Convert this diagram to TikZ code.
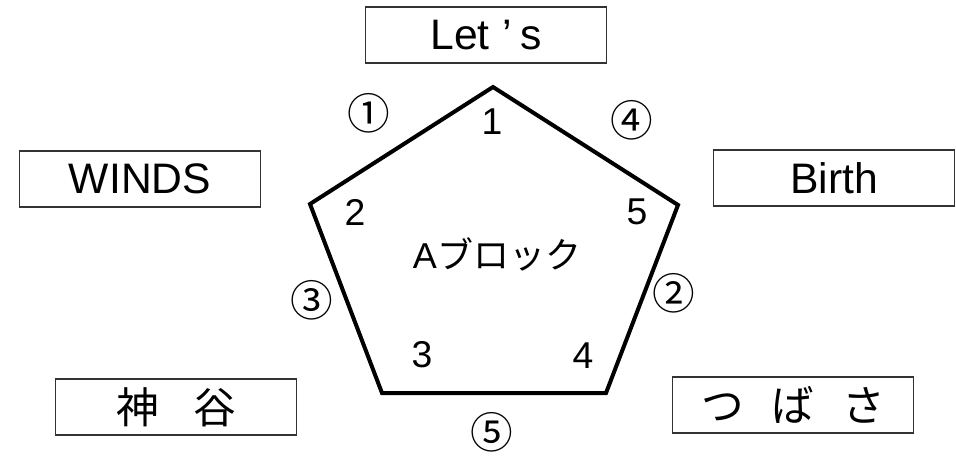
\documentclass[tikz,border=0pt]{standalone}
\usepackage{fontspec}
\setmainfont{Liberation Sans}
\newfontfamily\jp{Noto Sans CJK JP}
\usetikzlibrary{positioning}

\begin{document}
\begin{tikzpicture}[
  x=0.75pt, y=-0.75pt,
  team/.style={draw=black!80, line width=1.1pt, minimum width=181pt, minimum height=42pt,
    inner sep=0pt, font=\fontsize{32}{36}\selectfont},
  num/.style={font=\fontsize{28}{30}\selectfont},
  order/.style={font=\jp\fontsize{32}{34}\selectfont},
  block/.style={line width=3pt, line join=miter}
]
  \useasboundingbox (0,0) rectangle (956,455);

  % pentagon corners
  \coordinate (p1) at (493,87);
  \coordinate (p2) at (310,204);
  \coordinate (p3) at (382,393);
  \coordinate (p4) at (606,393);
  \coordinate (p5) at (678,205);
  \draw[block] (p1) -- (p2) -- (p3) -- (p4) -- (p5) -- cycle;

  \node[num] (n1) at (492,122) {1};
  \node[num] (n2) at (355,212) {2};
  \node[num] (n3) at (422,355) {3};
  \node[num] (n4) at (583,356) {4};
  \node[num] (n5) at (637,212) {5};
  \node[num, font=\fontsize{27}{30}\selectfont] (title) at (497,254) {A{\jp ブロック}};

  % teams
  \node[team] (lets) at (486,35) {Let\hspace{0.3em}’\hspace{0.2em}s};
  \node[team] (winds) at (140,179) {WINDS};
  \node[team] (birth) at (834,178) {Birth};
  \node[team, font=\jp\fontsize{32}{36}\selectfont] (kamiya) at (176,407) {神\hspace{0.8em}谷};
  \node[team, font=\jp\fontsize{32}{36}\selectfont] (tsubasa) at (793,405) {つ\hspace{0.65em}ば\hspace{0.65em}さ};

  % match order
  \node[order] (o1) at (369,113) {①};
  \node[order] (o2) at (674,293) {②};
  \node[order] (o3) at (312,300) {③};
  \node[order] (o4) at (632,120) {④};
  \node[order] (o5) at (492,432) {⑤};
\end{tikzpicture}
\end{document}
